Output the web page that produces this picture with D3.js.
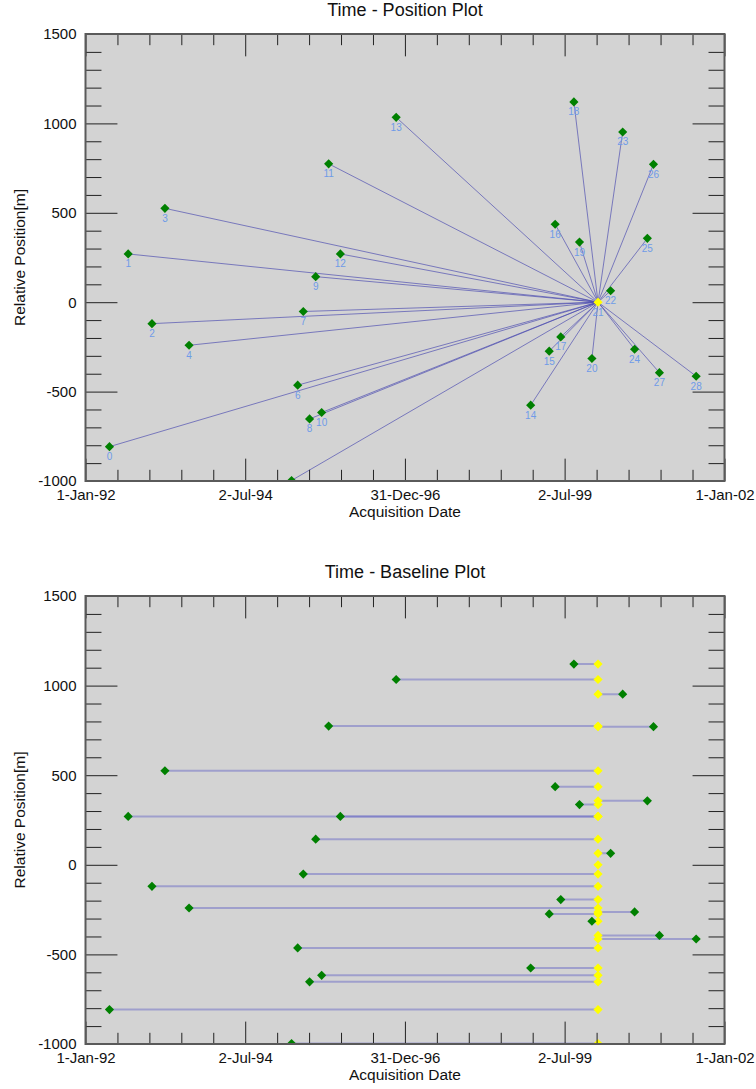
<!DOCTYPE html>
<html>
<head>
<meta charset="utf-8">
<script src="https://cdn.jsdelivr.net/npm/d3@7"></script>
<style>
  body { margin: 0; background: #fff; }
  text { font-family: "Liberation Sans", Arial, Helvetica, sans-serif; }
</style>
</head>
<body>
<svg id="chart" width="756" height="1089"></svg>
<script>
// acquisition dates, one per image (index = label)
var dates = ["1992-05-17", "1992-09-01", "1993-01-15", "1993-03-30", "1993-08-15",
             "1995-03-24", "1995-04-28", "1995-05-30", "1995-07-05", "1995-08-09",
             "1995-09-12", "1995-10-22", "1995-12-28", "1996-11-11", "1998-12-20",
             "1999-04-05", "1999-05-09", "1999-06-10", "1999-08-24", "1999-09-25",
             "1999-12-05", "2000-01-09", "2000-03-21", "2000-05-29", "2000-08-05",
             "2000-10-17", "2000-11-21", "2000-12-25", "2001-07-23"];
// relative position to the master image, metres
var positions = [-808, 270, -120, 525, -241,
                 -997, -464, -52, -653, 143,
                 -617, 774, 270, 1034, -576,
                 -274, 436, -194, 1120, 336,
                 -315, 0, 64, 952, -263,
                 357, 771, -394, -414];
var labels = ["0", "1", "2", "3", "4", "5", "6", "7", "8", "9", "10", "11", "12", "13", "14",
              "15", "16", "17", "18", "19", "20", "21", "22", "23", "24", "25", "26", "27", "28"];
var masterIndex = 21;

var xTickDates = ["1992-01-01", "1994-07-02", "1996-12-31", "1999-07-02", "2002-01-01"];
var xTickLabels = ["1-Jan-92", "2-Jul-94", "31-Dec-96", "2-Jul-99", "1-Jan-02"];
var yTicks = [-1000, -500, 0, 500, 1000, 1500];

var parse = d3.utcParse("%Y-%m-%d");
var svg = d3.select("#chart");

var left = 85.5, right = 724.5;
var panels = [
  {title: "Time - Position Plot", top: 34, bottom: 481, kind: "position"},
  {title: "Time - Baseline Plot", top: 596, bottom: 1044, kind: "baseline"}
];

var data = dates.map(function(d, i) {
  return {date: parse(d), pos: positions[i], label: labels[i], master: i === masterIndex};
});
var master = data[masterIndex];

var diamond = d3.symbol().type(d3.symbolSquare).size(42);

panels.forEach(function(p, pi) {
  var H = p.bottom - p.top, W = right - left;
  var x = d3.scaleUtc()
    .domain([parse(xTickDates[0]), parse(xTickDates[xTickDates.length - 1])])
    .range([left, right]);
  var y = d3.scaleLinear().domain([-1000, 1500]).range([p.bottom, p.top]);

  var g = svg.append("g");

  g.append("rect")
    .attr("x", left).attr("y", p.top)
    .attr("width", W).attr("height", H)
    .attr("fill", "#d3d3d3");

  var clipId = "clip" + pi;
  g.append("clipPath").attr("id", clipId)
    .append("rect")
    .attr("x", left).attr("y", p.top)
    .attr("width", W).attr("height", H);

  var marks = g.append("g").attr("clip-path", "url(#" + clipId + ")");

  if (p.kind === "position") {
    marks.selectAll("line.link")
      .data(data.filter(function(d) { return !d.master; }))
      .enter().append("line")
      .attr("class", "link")
      .attr("x1", function(d) { return x(d.date); })
      .attr("y1", function(d) { return y(d.pos); })
      .attr("x2", x(master.date))
      .attr("y2", y(master.pos))
      .attr("stroke", "rgba(70,70,175,0.65)")
      .attr("stroke-width", 1);

    marks.selectAll("path.pt")
      .data(data)
      .enter().append("path")
      .attr("class", "pt")
      .attr("d", diamond)
      .attr("transform", function(d) {
        return "translate(" + x(d.date) + "," + y(d.pos) + ") rotate(45)";
      })
      .attr("fill", function(d) { return d.master ? "#ffff00" : "#008000"; });

    marks.selectAll("text.lab")
      .data(data)
      .enter().append("text")
      .attr("class", "lab")
      .attr("x", function(d) { return x(d.date); })
      .attr("y", function(d) { return y(d.pos) + 13.5; })
      .attr("text-anchor", "middle")
      .attr("font-size", 10)
      .attr("fill", "#6f9be8")
      .text(function(d) { return d.label; });
  } else {
    marks.selectAll("line.link")
      .data(data.filter(function(d) { return !d.master; }))
      .enter().append("line")
      .attr("class", "link")
      .attr("x1", function(d) { return x(d.date); })
      .attr("y1", function(d) { return y(d.pos); })
      .attr("x2", x(master.date))
      .attr("y2", function(d) { return y(d.pos); })
      .attr("stroke", "rgba(95,95,195,0.45)")
      .attr("stroke-width", 2);

    marks.selectAll("path.mst")
      .data(data)
      .enter().append("path")
      .attr("class", "mst")
      .attr("d", diamond)
      .attr("transform", function(d) {
        return "translate(" + x(master.date) + "," + y(d.pos) + ") rotate(45)";
      })
      .attr("fill", "#ffff00");

    marks.selectAll("path.pt")
      .data(data.filter(function(d) { return !d.master; }))
      .enter().append("path")
      .attr("class", "pt")
      .attr("d", diamond)
      .attr("transform", function(d) {
        return "translate(" + x(d.date) + "," + y(d.pos) + ") rotate(45)";
      })
      .attr("fill", "#008000");
  }

  // ticks: major + minor on all four sides, pointing inward
  var xMajor = xTickDates.map(parse);
  var xMinor = [];
  for (var i = 0; i < xMajor.length - 1; i++) {
    var a = x(xMajor[i]), b = x(xMajor[i + 1]);
    for (var j = 1; j < 5; j++) xMinor.push(x.invert(a + j * (b - a) / 5));
  }
  var yMinor = d3.range(-1000, 1501, 100).filter(function(v) { return v % 500 !== 0; });

  function styleAxis(sel) {
    sel.select(".domain").remove();
    sel.selectAll(".tick line").attr("stroke", "#222").attr("stroke-width", 1);
    sel.attr("font-size", 15)
       .attr("font-family", "'Liberation Sans', Arial, Helvetica, sans-serif");
    sel.selectAll(".tick text").attr("fill", "#111");
  }

  g.append("g").attr("transform", "translate(0," + p.bottom + ")")
    .call(d3.axisBottom(x).tickValues(xMajor).tickSize(-0.05 * H).tickPadding(8)
      .tickFormat(function(d, i) { return xTickLabels[i]; }))
    .call(styleAxis);
  g.append("g").attr("transform", "translate(0," + p.bottom + ")")
    .call(d3.axisBottom(x).tickValues(xMinor).tickSize(-0.025 * H).tickFormat(""))
    .call(styleAxis);
  g.append("g").attr("transform", "translate(0," + p.top + ")")
    .call(d3.axisTop(x).tickValues(xMajor).tickSize(-0.05 * H).tickFormat(""))
    .call(styleAxis);
  g.append("g").attr("transform", "translate(0," + p.top + ")")
    .call(d3.axisTop(x).tickValues(xMinor).tickSize(-0.025 * H).tickFormat(""))
    .call(styleAxis);

  g.append("g").attr("transform", "translate(" + left + ",0)")
    .call(d3.axisLeft(y).tickValues(yTicks).tickSize(-0.05 * W).tickPadding(9)
      .tickFormat(function(d) { return String(d); }))
    .call(styleAxis);
  g.append("g").attr("transform", "translate(" + left + ",0)")
    .call(d3.axisLeft(y).tickValues(yMinor).tickSize(-0.025 * W).tickFormat(""))
    .call(styleAxis);
  g.append("g").attr("transform", "translate(" + right + ",0)")
    .call(d3.axisRight(y).tickValues(yTicks).tickSize(-0.05 * W).tickFormat(""))
    .call(styleAxis);
  g.append("g").attr("transform", "translate(" + right + ",0)")
    .call(d3.axisRight(y).tickValues(yMinor).tickSize(-0.025 * W).tickFormat(""))
    .call(styleAxis);

  g.append("rect")
    .attr("x", left).attr("y", p.top)
    .attr("width", W).attr("height", H)
    .attr("fill", "none")
    .attr("stroke", "#5a5a5a")
    .attr("stroke-width", 2);

  g.append("text")
    .attr("x", (left + right) / 2).attr("y", p.top - 18)
    .attr("text-anchor", "middle")
    .attr("font-size", 18)
    .attr("fill", "#111")
    .text(p.title);

  g.append("text")
    .attr("x", (left + right) / 2).attr("y", p.bottom + 36)
    .attr("text-anchor", "middle")
    .attr("font-size", 15.5)
    .attr("fill", "#111")
    .text("Acquisition Date");

  g.append("text")
    .attr("transform", "translate(25," + ((p.top + p.bottom) / 2) + ") rotate(-90)")
    .attr("text-anchor", "middle")
    .attr("font-size", 15.5)
    .attr("fill", "#111")
    .text("Relative Position[m]");
});
</script>
</body>
</html>
